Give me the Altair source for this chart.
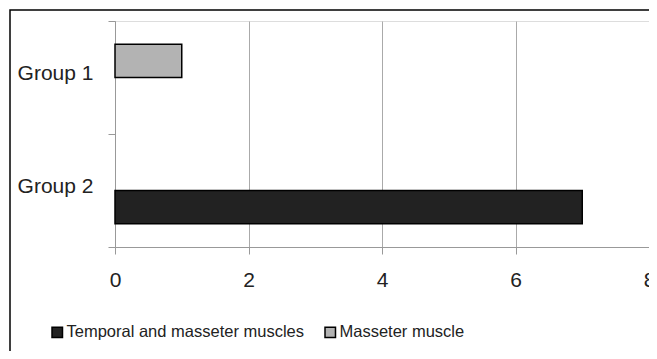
import altair as alt
import pandas as pd

groups = ["Group 1", "Group 2"]
series = ["Temporal and masseter muscles", "Masseter muscle"]
temporal = [0, 7]
masseter = [1, 0]
colors = ["#222222", "#b3b3b3"]
x_ticks = [0, 2, 4, 6, 8]

rows = []
for g, t, m in zip(groups, temporal, masseter):
    if t:
        rows.append({"group": g, "series": series[0], "value": t})
    if m:
        rows.append({"group": g, "series": series[1], "value": m})
df = pd.DataFrame(rows)

FONT = "Liberation Sans"

bars = alt.Chart(df).mark_bar(stroke="black", strokeWidth=1.5).encode(
    x=alt.X("value:Q", scale=alt.Scale(domain=[0, 8], nice=False),
            axis=alt.Axis(values=x_ticks, title=None, grid=True, gridColor="#aaaaaa",
                          domainColor="#999999", tickColor="#999999", tickSize=7,
                          labelFontSize=21, labelColor="#222222", labelFont=FONT,
                          labelPadding=15, labelFlush=False)),
    y=alt.Y("group:N", scale=alt.Scale(domain=groups, paddingInner=0, paddingOuter=0),
            axis=alt.Axis(title=None, domainColor="#999999", tickColor="#999999",
                          tickSize=7, tickBand="extent", labelFontSize=21,
                          labelColor="#222222", labelFont=FONT, labelPadding=15,
                          labelOffset=-4)),
    yOffset=alt.YOffset("series:N", scale=alt.Scale(domain=[series[1], series[0]],
                                                    paddingOuter=0.7, paddingInner=0)),
    color=alt.Color("series:N", scale=alt.Scale(domain=series, range=colors),
                    legend=alt.Legend(title=None, orient="none", legendX=-66, legendY=303,
                                      direction="horizontal", symbolType="square",
                                      symbolSize=110, symbolStrokeColor="black",
                                      symbolStrokeWidth=1.5, labelFontSize=16.5,
                                      labelFont=FONT, labelColor="#222222",
                                      columnPadding=17, labelOffset=1, labelLimit=400)),
)

frame = alt.Chart(pd.DataFrame({"a": [0]})).mark_rect(
    fillOpacity=0, stroke="black", strokeWidth=1.5, clip=False
).encode(x=alt.value(-105), x2=alt.value(700), y=alt.value(-11), y2=alt.value(500))

chart = alt.layer(bars, frame).properties(
    width=534, height=226,
    autosize=alt.AutoSizeParams(type="none"),
    padding={"left": 107, "top": 13, "right": 0, "bottom": 104},
).configure_view(stroke=None).configure(background="white")

chart.save("out.html", embed_options={"renderer": "svg", "actions": False})
